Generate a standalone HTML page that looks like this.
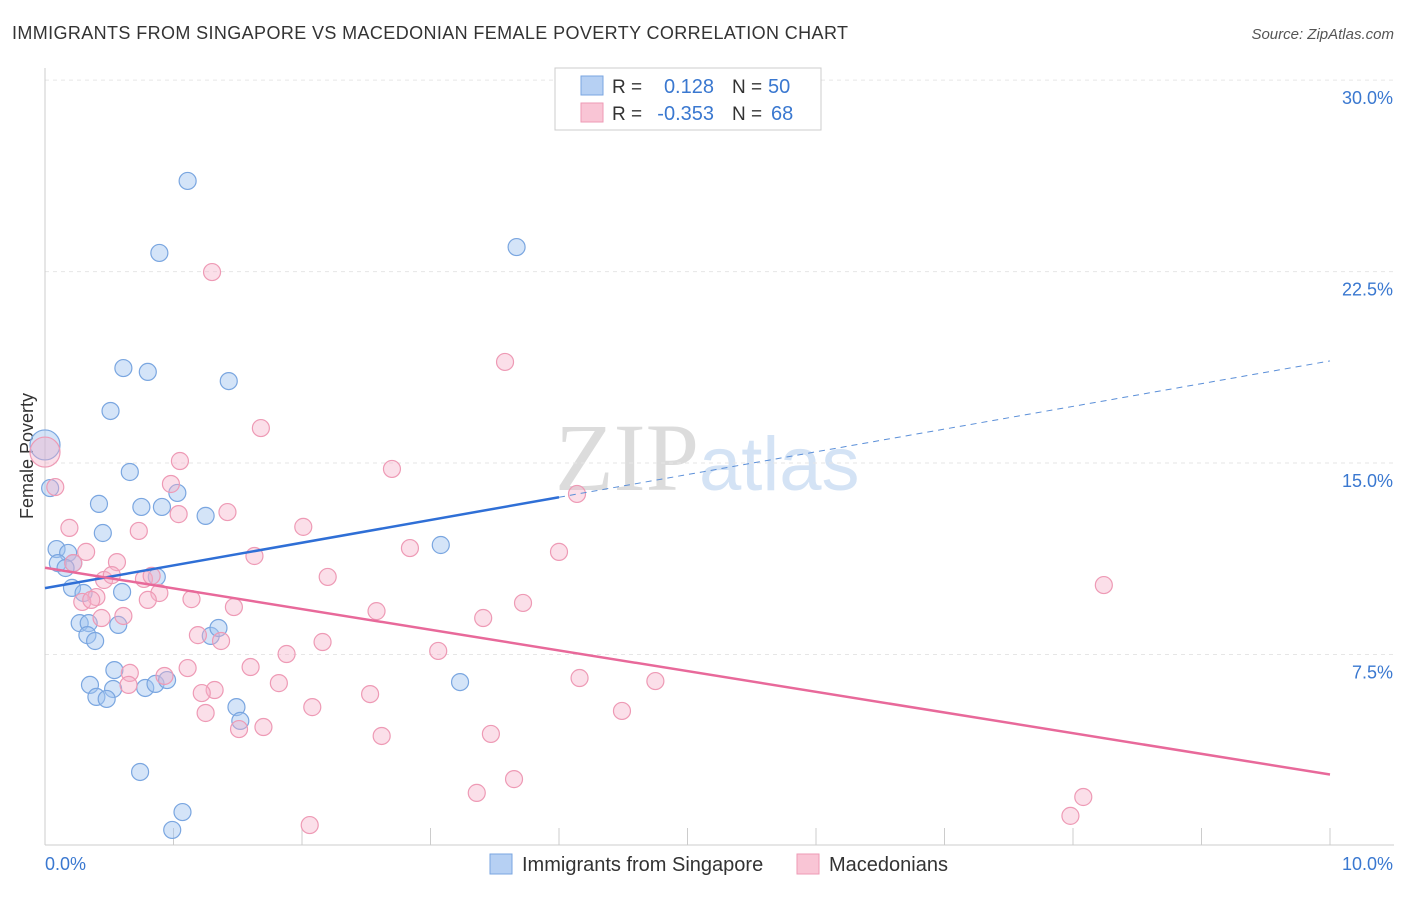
<!DOCTYPE html>
<html><head><meta charset="utf-8"><style>
body{margin:0;background:#fff;font-family:"Liberation Sans",sans-serif}
</style></head><body>
<svg id="chart" width="1406" height="892" xmlns="http://www.w3.org/2000/svg" font-family="Liberation Sans, sans-serif">
<text x="12" y="39" font-size="18" fill="#333" textLength="836">IMMIGRANTS FROM SINGAPORE VS MACEDONIAN FEMALE POVERTY CORRELATION CHART</text>
<text x="1394" y="39" font-size="15" fill="#555" text-anchor="end" font-style="italic">Source: ZipAtlas.com</text>
<text x="555" y="490" font-size="96" fill="#dcdcdc" font-family="Liberation Serif, serif">ZIP<tspan fill="#d4e3f5" font-family="Liberation Sans, sans-serif" font-size="76">atlas</tspan></text>
<text transform="translate(33,456) rotate(-90)" font-size="18" fill="#333" text-anchor="middle">Female Poverty</text>
<g id="grid"></g><g id="pts"></g><g id="lines"></g>
<g>
<rect x="555" y="68" width="266" height="62" fill="#fff" stroke="#ccc"/>
<rect x="581" y="76" width="22" height="19" fill="#b6d0f3" stroke="#7aa6e0"/>
<rect x="581" y="103" width="22" height="19" fill="#f9c5d5" stroke="#ee9ab5"/>
<text x="612" y="93" font-size="19" fill="#333">R =</text>
<text x="714" y="93" font-size="20" fill="#3a78d0" text-anchor="end">0.128</text>
<text x="732" y="93" font-size="19" fill="#333">N =</text>
<text x="768" y="93" font-size="20" fill="#3a78d0">50</text>
<text x="612" y="120" font-size="19" fill="#333">R =</text>
<text x="714" y="120" font-size="20" fill="#3a78d0" text-anchor="end">-0.353</text>
<text x="732" y="120" font-size="19" fill="#333">N =</text>
<text x="771" y="120" font-size="20" fill="#3a78d0">68</text>
</g>
<g>
<rect x="490" y="854" width="22" height="20" fill="#b6d0f3" stroke="#7aa6e0"/>
<text x="522" y="871" font-size="20" fill="#333">Immigrants from Singapore</text>
<rect x="797" y="854" width="22" height="20" fill="#f9c5d5" stroke="#ee9ab5"/>
<text x="829" y="871" font-size="20" fill="#333">Macedonians</text>
</g>
</svg>
<script>
const yTicks=[7.5,15,22.5,30];
const yTickLabels=["7.5%","15.0%","22.5%","30.0%"];
const xTickLabels=["0.0%","10.0%"];
const blueX=[1.11,0.89,3.67,0.61,0.80,1.43,0.51,0.00,0.66,0.04,0.42,0.75,0.91,1.03,1.25,0.45,3.08,0.09,0.18,0.10,0.22,0.16,0.21,0.30,0.60,0.87,0.27,0.34,0.57,0.33,0.39,1.29,1.35,0.54,0.35,0.53,0.78,0.86,0.95,3.23,0.40,0.48,1.49,1.52,0.74,1.07,0.99];
const blueY=[26.05,23.23,23.46,18.72,18.57,18.21,17.04,15.71,14.65,14.02,13.40,13.28,13.28,13.83,12.93,12.26,11.79,11.63,11.48,11.08,11.08,10.89,10.11,9.91,9.95,10.54,8.73,8.73,8.66,8.26,8.03,8.23,8.54,6.89,6.31,6.15,6.19,6.35,6.50,6.42,5.84,5.76,5.44,4.90,2.90,1.33,0.63];
const pinkX=[0.08,0,1.30,3.58,1.68,1.05,2.70,0.98,4.14,1.04,1.42,2.01,0.19,0.73,2.84,4.00,1.63,0.32,0.56,0.22,2.20,8.24,0.46,0.52,0.77,0.83,0.89,0.40,0.29,0.36,0.80,1.14,1.47,2.58,3.41,3.72,0.61,0.44,1.19,1.37,2.16,1.88,3.06,1.60,1.11,0.66,0.93,4.16,4.75,1.82,0.65,1.32,1.22,2.53,2.08,4.49,1.25,1.70,1.51,2.62,3.47,3.65,3.36,8.08,2.06,7.98];
const pinkY=[14.06,15.43,22.48,18.96,16.37,15.08,14.77,14.18,13.79,13.00,13.08,12.50,12.46,12.34,11.67,11.52,11.36,11.52,11.12,11.08,10.54,10.22,10.42,10.61,10.46,10.58,9.91,9.75,9.56,9.64,9.64,9.67,9.36,9.20,8.93,9.52,9.01,8.93,8.26,8.03,7.99,7.52,7.64,7.01,6.97,6.78,6.66,6.58,6.46,6.38,6.31,6.11,5.99,5.95,5.44,5.29,5.21,4.66,4.58,4.31,4.39,2.62,2.08,1.92,0.82,1.18];
const blueTrend=[10.1,19.0];
const pinkTrend=[10.9,2.8];
const NS="http://www.w3.org/2000/svg";
const X=v=>45+v*128.5, Y=v=>846-v*25.53;
function mk(p,t,a){const e=document.createElementNS(NS,t);for(const k in a)e.setAttribute(k,a[k]);document.getElementById(p).appendChild(e);return e;}
yTicks.forEach((t,i)=>{
 const l=mk('grid','line',{x1:45,x2:1394,y1:Y(t),y2:Y(t),stroke:'#e6e6e6','stroke-dasharray':'4,4'});
 
 
 const tx=mk('grid','text',{x:1393,y:Y(t)+24,'font-size':18,fill:'#3a78d0','text-anchor':'end'});
 tx.textContent=yTickLabels[i];
 
 
});
const ax=mk('grid','line',{x1:45,x2:1394,y1:845,y2:845,stroke:'#ccc'});


const ay=mk('grid','line',{x1:45,x2:45,y1:68,y2:845,stroke:'#ccc'});


for(let i=0;i<=10;i++){const t=mk('grid','line',{x1:X(i),x2:X(i),y1:828,y2:845,stroke:'#ccc'});
 
 }
[[0,'start'],[10,'end']].forEach((d,i)=>{const t=mk('grid','text',{x:X(d[0])+(i?63:0),y:870,'font-size':18,fill:'#3a78d0','text-anchor':d[1]});t.textContent=xTickLabels[i];
 
 });
function pts(xs,ys,fill,stroke,name){xs.forEach((x,i)=>{const big=x===0;const c=mk('pts','circle',{cx:X(x),cy:Y(ys[i]),r:big?15:8.5,fill:fill,stroke:stroke,'stroke-width':1.2});
 
 });}
pts(blueX,blueY,'rgba(160,196,240,0.45)','#7aa6e0','singapore-point');
pts(pinkX,pinkY,'rgba(246,176,200,0.4)','#ee9ab5','macedonian-point');
const f=t=>blueTrend[0]+(blueTrend[1]-blueTrend[0])*t/10;
const b1=mk('lines','line',{x1:X(0),y1:Y(f(0)),x2:X(4),y2:Y(f(4)),stroke:'#2f6fd6','stroke-width':2.5});


const b2=mk('lines','line',{x1:X(4),y1:Y(f(4)),x2:X(10),y2:Y(f(10)),stroke:'#5b8fd8','stroke-width':1,'stroke-dasharray':'6,5'});


const p1=mk('lines','line',{x1:X(0),y1:Y(pinkTrend[0]),x2:X(10),y2:Y(pinkTrend[1]),stroke:'#e8699a','stroke-width':2.5});


</script>
</body></html>
